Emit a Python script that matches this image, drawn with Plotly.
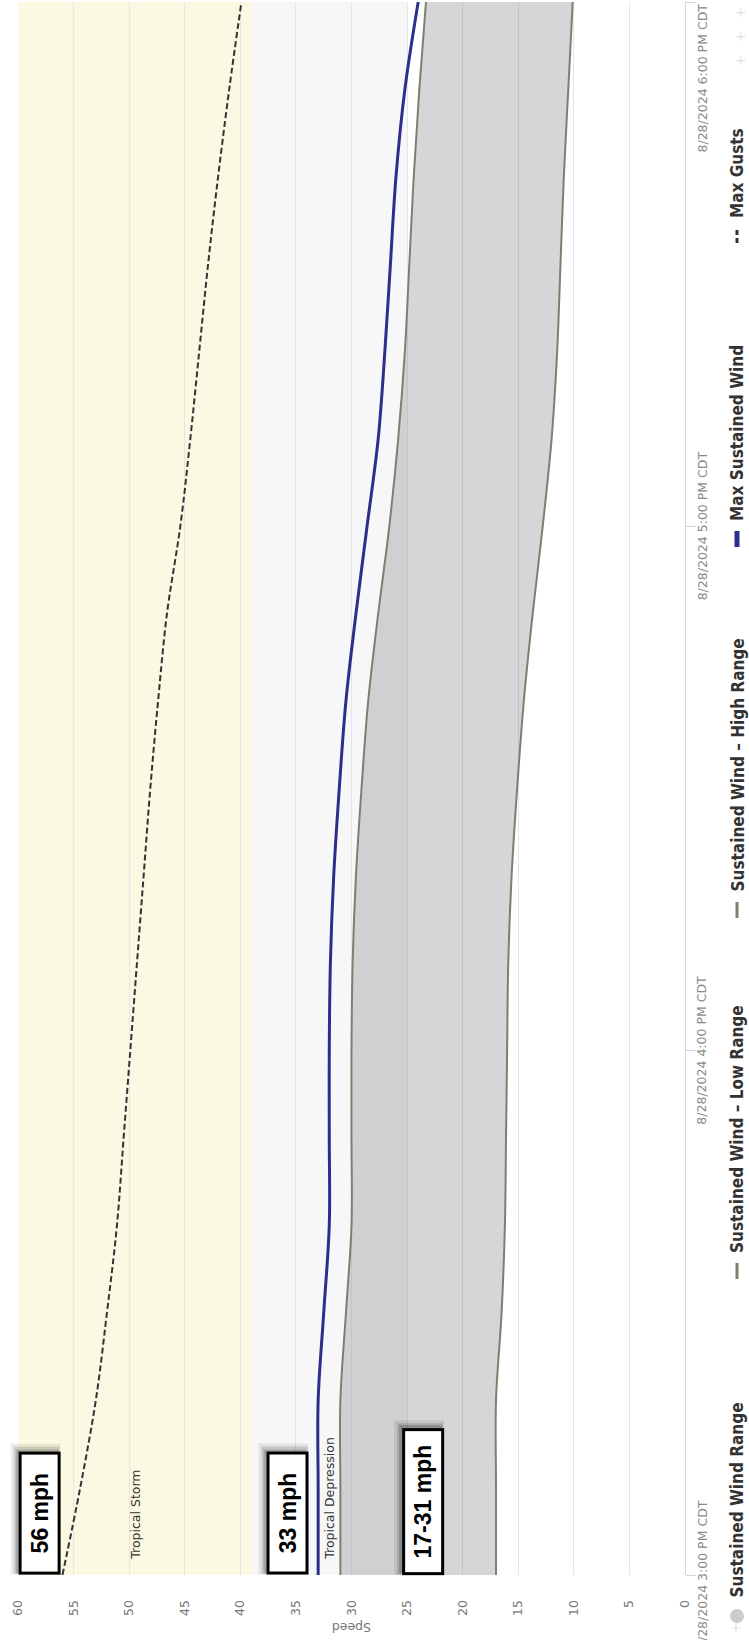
import plotly.graph_objects as go

# -----------------------------
# Data (10 minute steps, 3:00 PM - 6:00 PM CDT)
# -----------------------------

TIMES = [
    "2024-08-28 15:00", "2024-08-28 15:10", "2024-08-28 15:20", "2024-08-28 15:30",
    "2024-08-28 15:40", "2024-08-28 15:50", "2024-08-28 16:00", "2024-08-28 16:10",
    "2024-08-28 16:20", "2024-08-28 16:30", "2024-08-28 16:40", "2024-08-28 16:50",
    "2024-08-28 17:00", "2024-08-28 17:10", "2024-08-28 17:20", "2024-08-28 17:30",
    "2024-08-28 17:40", "2024-08-28 17:50", "2024-08-28 18:00",
]

MAX_GUSTS = [56, 54.4, 53.0, 52.0, 51.1, 50.5, 49.9, 49.3, 48.7, 48.1,
             47.4, 46.6, 45.4, 44.5, 43.7, 42.9, 42.0, 41.0, 39.9]
MAX_SUSTAINED = [33, 33, 33, 32.5, 32, 32, 32, 31.9, 31.6, 31.1,
                 30.5, 29.6, 28.6, 27.6, 27.0, 26.5, 26.0, 25.2, 24.0]
HIGH_RANGE = [31, 31, 31, 30.5, 30, 30, 30, 29.9, 29.6, 29.1,
              28.5, 27.6, 26.6, 25.8, 25.2, 24.8, 24.4, 23.9, 23.3]
LOW_RANGE = [17, 17, 17, 16.5, 16.2, 16.1, 16.0, 15.9, 15.6, 15.1,
             14.5, 13.7, 12.8, 12.0, 11.5, 11.2, 10.9, 10.5, 10.1]

SPEED_TICKS = [0, 5, 10, 15, 20, 25, 30, 35, 40, 45, 50, 55, 60]
TIME_TICKS = ["2024-08-28 15:00", "2024-08-28 16:00", "2024-08-28 17:00", "2024-08-28 18:00"]
TIME_LABELS = ["8/28/2024 3:00 PM CDT", "8/28/2024 4:00 PM CDT",
               "8/28/2024 5:00 PM CDT", "8/28/2024 6:00 PM CDT"]

BANDS = [("Tropical Depression", 25, 39, "#f7f7f7", 32), ("Tropical Storm", 39, 73, "#fcf9e2", 49.5)]

# text, speed at box centre, box length (px)
CALLOUTS = [("56 mph", 58.1, 123), ("33 mph", 35.8, 123), ("17-31 mph", 23.6, 147)]

LEGEND = ["Sustained Wind Range", "Sustained Wind \u2013 Low Range",
          "Sustained Wind \u2013 High Range", "Max Sustained Wind", "Max Gusts"]

# -----------------------------
# Layout geometry (px)
# -----------------------------

W, H = 749, 1640
L, R, T, B = 18, 64, 2, 65

RANGE_LINE = "#76846b"
NAVY = "#2b2e8c"
GREY_TXT = "#777777"
BASE = "DejaVu Sans, Verdana, sans-serif"
COND = "Liberation Sans Narrow, DejaVu Sans Condensed, Roboto Condensed, Arial Narrow, sans-serif"


def px(x):
    return (x - L) / (W - L - R)


def py(y):
    return (H - B - y) / (H - T - B)


fig = go.Figure()

# range fill between high and low
fig.add_trace(go.Scatter(
    x=HIGH_RANGE, y=TIMES, mode="lines",
    line=dict(color=RANGE_LINE, width=2, shape="spline"),
    showlegend=False,
))
fig.add_trace(go.Scatter(
    x=LOW_RANGE, y=TIMES, mode="lines",
    fill="tonextx", fillcolor="rgba(120,120,125,0.3)",
    line=dict(color=RANGE_LINE, width=2, shape="spline"),
    showlegend=False,
))

fig.add_trace(go.Scatter(
    x=MAX_SUSTAINED, y=TIMES, mode="lines",
    line=dict(color=NAVY, width=3, shape="spline"),
    showlegend=False,
))

fig.add_trace(go.Scatter(
    x=MAX_GUSTS, y=TIMES, mode="lines",
    line=dict(color="#333333", width=2, dash="6px,3px", shape="spline"),
    showlegend=False,
))

# plot bands + labels
for name, lo, hi, col, mid in BANDS:
    fig.add_shape(type="rect", xref="x", yref="paper", x0=lo, x1=hi, y0=0, y1=1,
                  fillcolor=col, line_width=0, layer="below")
    fig.add_annotation(x=mid, xref="x", y=0, yref="y domain", yshift=13,
                       text=name, textangle=-90, showarrow=False,
                       xanchor="center", yanchor="bottom",
                       font=dict(family=BASE, size=12.5, color="#333333"))

# callout boxes (with a soft shadow)
BOX_W = 42
for text, xv, blen in CALLOUTS:
    for grow, off, alpha in ((8, 4, 0.08), (4, 3, 0.12), (1, 2, 0.18)):
        fig.add_annotation(x=xv, xref="x", y=0, yref="y domain",
                           xshift=-off, yshift=blen / 2 + off,
                           text=" ", textangle=-90, showarrow=False,
                           width=blen + grow, height=BOX_W + grow,
                           xanchor="center", yanchor="middle",
                           bgcolor="rgba(0,0,0,%s)" % alpha, borderwidth=0, borderpad=0)
    fig.add_annotation(x=xv, xref="x", y=0, yref="y domain", yshift=blen / 2,
                       text="<b>%s</b>" % text, textangle=-90, showarrow=False,
                       width=blen - 6, height=BOX_W - 6,
                       xanchor="center", yanchor="middle",
                       bgcolor="white", bordercolor="black", borderwidth=3, borderpad=0,
                       font=dict(family="Liberation Sans, Arial, sans-serif", size=23, color="black"))

# time axis labels
for i, (tv, lab) in enumerate(zip(TIME_TICKS, TIME_LABELS)):
    fig.add_annotation(x=1, xref="paper", xshift=17, y=tv, yref="y",
                       text=lab, textangle=-90, showarrow=False,
                       xanchor="center", yanchor="top" if i == 3 else "middle",
                       font=dict(family=BASE, size=12.5, color="#8a8a8a"))

# axis title
fig.add_annotation(x=0.5, xref="paper", y=0, yref="paper", yshift=-53,
                   text="Speed", textangle=180, showarrow=False,
                   xanchor="center", yanchor="middle",
                   font=dict(family=BASE, size=12.5, color=GREY_TXT))

# legend (drawn by hand, rotated)
LX = 737
leg_pos = [1600, 1255, 894, 523, 220]
for name, ty in zip(LEGEND, leg_pos):
    fig.add_annotation(x=px(LX), xref="paper", y=py(ty), yref="paper",
                       text="<b>%s</b>" % name, textangle=-90, showarrow=False,
                       xanchor="center", yanchor="bottom",
                       font=dict(family=COND, size=17, color="#333333"))

fig.add_shape(type="circle", xref="paper", yref="paper",
              x0=px(LX - 7), x1=px(LX + 7), y0=py(1623), y1=py(1609),
              fillcolor="#cccccc", line_width=0)
for sy in (1271, 910):
    fig.add_shape(type="line", xref="paper", yref="paper",
                  x0=px(LX), x1=px(LX), y0=py(sy + 8), y1=py(sy - 8),
                  line=dict(color=RANGE_LINE, width=3))
fig.add_shape(type="line", xref="paper", yref="paper",
              x0=px(LX), x1=px(LX), y0=py(547), y1=py(531),
              line=dict(color=NAVY, width=5))
fig.add_shape(type="line", xref="paper", yref="paper",
              x0=px(LX), x1=px(LX), y0=py(243), y1=py(227),
              line=dict(color="#333333", width=3, dash="5px,3px"))

# faint crosshair marks at the right edge
for cx, cy in ((741, 12), (741, 36), (741, 60), (736, 1627)):
    fig.add_annotation(x=px(cx), xref="paper", y=py(cy), yref="paper",
                       text="+", showarrow=False, xanchor="center", yanchor="middle",
                       font=dict(family=BASE, size=14, color="#e4e4e4"))

fig.update_layout(
    width=W, height=H,
    margin=dict(l=L, r=R, t=T, b=B),
    paper_bgcolor="white",
    plot_bgcolor="white",
    showlegend=False,
    xaxis=dict(
        range=[60, 0],
        tickvals=SPEED_TICKS,
        tickangle=-90,
        ticks="outside", ticklen=19, tickcolor="rgba(0,0,0,0)",
        tickfont=dict(family=BASE, size=12.5, color=GREY_TXT),
        showgrid=True, gridcolor="#e6e6e6", gridwidth=1,
        zeroline=False, showline=False, automargin=False,
    ),
    yaxis=dict(
        type="date",
        range=[TIME_TICKS[0], TIME_TICKS[-1]],
        side="right",
        tickvals=TIME_TICKS,
        showticklabels=False,
        ticks="outside", ticklen=10, tickcolor="#ccd6eb",
        showline=True, linecolor="#ccd6eb", linewidth=1,
        showgrid=False, zeroline=False, automargin=False,
    ),
)

fig.write_html("out.html", config={"displayModeBar": False},
               post_script="document.body.style.margin='0px';")
